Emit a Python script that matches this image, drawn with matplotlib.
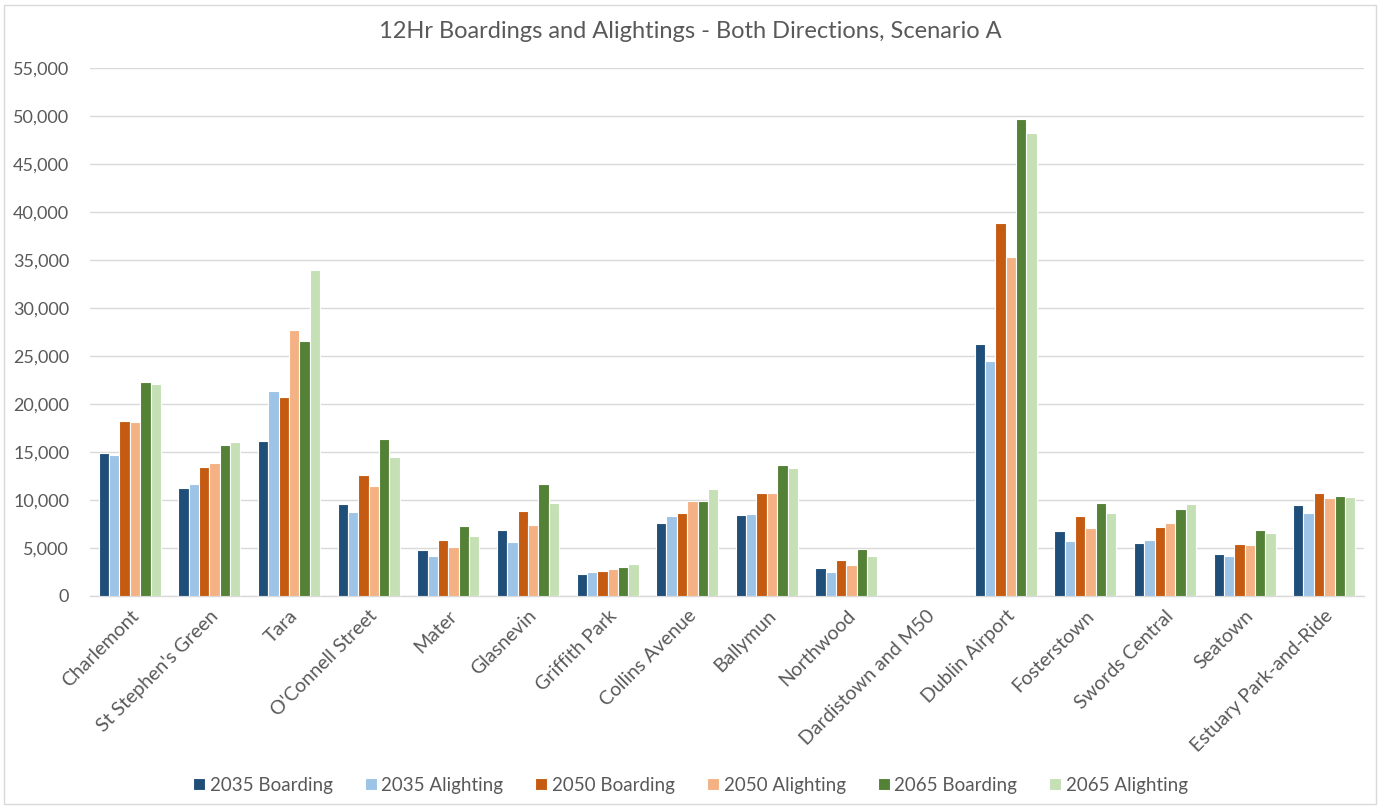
import matplotlib
matplotlib.use("Agg")
import matplotlib.pyplot as plt
import numpy as np
from matplotlib.patches import Rectangle
from matplotlib.ticker import FuncFormatter

stations = ["Charlemont", "St Stephen's Green", "Tara", "O'Connell Street", "Mater",
            "Glasnevin", "Griffith Park", "Collins Avenue", "Ballymun", "Northwood",
            "Dardistown and M50", "Dublin Airport", "Fosterstown", "Swords Central",
            "Seatown", "Estuary Park-and-Ride"]

b2035 = [14900, 11300, 16100, 9600, 4750, 6850, 2250, 7630, 8400, 2880, 0, 26300, 6770, 5520, 4340, 9440]
a2035 = [14700, 11700, 21400, 8700, 4160, 5600, 2470, 8360, 8500, 2470, 0, 24500, 5730, 5800, 4200, 8610]
b2050 = [18200, 13450, 20700, 12560, 5860, 8880, 2600, 8610, 10690, 3720, 0, 38900, 8300, 7180, 5450, 10750]
a2050 = [18150, 13850, 27730, 11420, 5130, 7360, 2840, 9860, 10690, 3200, 0, 35320, 7080, 7600, 5310, 10170]
b2065 = [22280, 15690, 26550, 16340, 7250, 11630, 2980, 9860, 13640, 4890, 0, 49730, 9680, 9020, 6840, 10380]
a2065 = [22040, 16030, 34000, 14440, 6250, 9650, 3370, 11170, 13320, 4160, 0, 48200, 8670, 9580, 6560, 10270]

series_names = ["2035 Boarding", "2035 Alighting", "2050 Boarding",
                "2050 Alighting", "2065 Boarding", "2065 Alighting"]
series = [b2035, a2035, b2050, a2050, b2065, a2065]
colors = ["#1F4E79", "#9DC3E6", "#C55A11", "#F4B183", "#538135", "#C5E0B4"]

plt.rcParams['font.family'] = ['Lato', 'DejaVu Sans']
txt = "#595959"

fig = plt.figure(figsize=(13.81, 8.08), dpi=100)
ax = fig.add_axes([90/1381, 1 - 596/808, (1364-90)/1381, (596-68)/808])

x = np.arange(len(stations))
n = len(series)
bw = 0.78 / n
for i, (vals, c, name) in enumerate(zip(series, colors, series_names)):
    ax.bar(x + (i - (n-1)/2) * bw, vals, width=bw, color=c, edgecolor="white",
           linewidth=0.8, label=name, zorder=3)

ax.set_xlim(-0.5, len(stations) - 0.5)
ax.set_ylim(0, 55000)
ax.set_yticks(np.arange(0, 55001, 5000))
ax.yaxis.set_major_formatter(FuncFormatter(lambda v, p: f"{int(v):,}"))
ax.grid(axis="y", color="#D9D9D9", linewidth=1, zorder=0)
for s in ["top", "right", "left"]:
    ax.spines[s].set_visible(False)
ax.spines["bottom"].set_color("#D9D9D9")
ax.spines["bottom"].set_linewidth(1)
ax.tick_params(axis="x", length=0, colors=txt, labelsize=14, pad=8)
ax.tick_params(axis="y", length=0, colors=txt, labelsize=13, pad=15)
ax.set_xticks(x)
ax.set_xticklabels(stations, rotation=45, ha="right", rotation_mode="anchor")

fig.text(0.5, 1 - 32/808, "12Hr Boardings and Alightings - Both Directions, Scenario A",
         ha="center", va="center", fontsize=17, color=txt)

leg = fig.legend(loc="center", bbox_to_anchor=(0.5, 1 - 785/808), ncol=6, frameon=False,
                 fontsize=13.5, handlelength=0.65, handleheight=0.65, handletextpad=0.25,
                 columnspacing=1.7)
for t in leg.get_texts():
    t.set_color(txt)

fig.patches.append(Rectangle((4/1381, 4/808), 1 - 9/1381, 1 - 9/808, transform=fig.transFigure,
                             fill=False, edgecolor="#D9D9D9", linewidth=1))

fig.savefig("out.png", dpi=100)
